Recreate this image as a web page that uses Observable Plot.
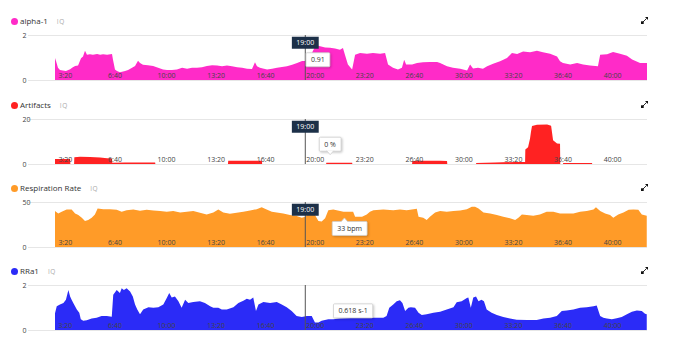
<!DOCTYPE html>
<html>
<head>
<meta charset="utf-8">
<script src="https://cdn.jsdelivr.net/npm/d3@7"></script>
<script src="https://cdn.jsdelivr.net/npm/@observablehq/plot@0.6"></script>
<style>
  body { margin: 0; background: #fff; font-family: "Open Sans", sans-serif; }
  #root { position: relative; width: 690px; height: 353px; overflow: hidden; background: #fff; }
  .panel { position: absolute; left: 0; width: 690px; height: 84px; }
  .legend { position: relative; height: 28px; }
  .legend .dot { position: absolute; left: 10.5px; top: 17.5px; width: 7.5px; height: 7.5px; border-radius: 50%; }
  .legend .name { position: absolute; left: 20px; top: 14px; font-size: 8px; line-height: 14px; color: #333; white-space: nowrap; }
  .legend .iq { margin-left: 9px; font-size: 6.5px; color: #aaa; letter-spacing: 0.5px; }
  .legend .expand { position: absolute; left: 641px; top: 17px; }
  .panel svg { display: block; }
</style>
</head>
<body>
<div id="root"></div>
<script>
// ---------- axis data ----------
const tickSeconds = [200, 400, 600, 800, 1000, 1200, 1400, 1600, 1800, 2000, 2200, 2400];
const tickLabels = ["3:20", "6:40", "10:00", "13:20", "16:40", "20:00", "23:20", "26:40", "30:00", "33:20", "36:40", "40:00"];
const cursorTime = 1200;
const cursorLabel = "19:00";

// ---------- series: alpha-1 ----------
const alphaTime = [192,196,204,212,224,236,253,261,273,285,297,305,313,321,333,345,362,374,386,402,422,426,434,442,454,475,487,503,515,527,535,547,567,588,608,628,644,664,684,705,725,745,765,785,805,826,846,866,886,906,927,947,967,987,999,1007,1019,1031,1048,1068,1088,1108,1128,1149,1169,1189,1201,1221,1233,1245,1262,1282,1302,1322,1342,1354,1362,1374,1391,1403,1423,1451,1475,1504,1524,1536,1556,1576,1592,1601,1609,1633,1653,1677,1705,1734,1746,1774,1798,1827,1855,1867,1879,1899,1919,1936,1960,1988,2016,2036,2057,2081,2109,2137,2161,2190,2218,2230,2242,2271,2299,2323,2351,2383,2392,2420,2444,2472,2500,2521,2553,2581];
const alphaValue = [0.98,0.85,0.55,0.45,0.42,0.40,0.48,0.55,0.62,0.65,0.97,1.05,1.30,1.12,1.15,1.12,1.16,1.12,1.14,1.12,1.16,0.90,0.47,0.40,0.35,0.40,0.45,0.55,0.62,0.86,0.76,0.68,0.66,0.62,0.55,0.47,0.44,0.44,0.47,0.54,0.50,0.54,0.54,0.57,0.62,0.66,0.64,0.61,0.64,0.61,0.57,0.54,0.50,0.49,0.79,0.61,0.54,0.51,0.47,0.50,0.54,0.58,0.61,0.68,0.76,0.85,0.84,1.00,1.30,1.55,1.50,1.45,1.43,1.40,1.34,1.42,1.12,0.69,0.47,1.12,1.20,1.17,1.20,1.17,1.20,0.69,0.54,0.47,0.54,0.90,0.69,0.69,0.76,0.79,0.80,0.80,0.76,0.61,0.54,0.50,0.42,0.69,0.51,0.54,0.50,0.61,0.72,0.83,0.98,1.20,1.16,1.27,1.23,1.30,1.23,1.17,1.05,0.83,0.76,0.69,0.76,0.69,0.64,0.61,1.12,1.15,1.24,1.17,1.08,0.91,0.76,0.76];

// ---------- series: Artifacts ----------
const artTime = [192,253,254,269,270,293,333,374,402,422,423,475,596,597,890,891,1027,1028,1286,1287,1391,1392,1633,1634,1665,1746,1774,1775,1891,1892,1968,2049,2089,2090,2101,2109,2113,2117,2137,2178,2194,2202,2218,2230,2231,2242,2243,2359,2360,2581];
const artValue = [2.2,2.2,0,0,3.0,3.2,3.1,2.9,2.6,2.5,0.6,0.7,0.7,0,0,1.5,1.5,0,0,0.6,0.6,0,0,1.3,1.5,1.4,1.3,0,0,0.5,0.7,0.9,0.9,6.5,7.4,11.3,14.5,16.9,17.4,17.6,17.0,10.6,9.1,9.0,0,0,0.45,0.45,0,0];

// ---------- series: Respiration Rate ----------
const respTime = [192,205,219,239,259,273,286,300,313,326,340,353,364,387,414,441,461,481,508,535,562,589,616,643,669,697,724,750,777,804,831,851,871,898,925,952,979,1006,1026,1046,1067,1087,1113,1140,1167,1188,1201,1221,1241,1255,1268,1282,1295,1315,1356,1395,1403,1431,1450,1463,1477,1517,1557,1584,1611,1632,1652,1659,1678,1692,1705,1726,1746,1773,1800,1827,1854,1874,1887,1901,1921,1948,1975,2001,2028,2049,2062,2076,2096,2122,2149,2176,2203,2230,2257,2284,2311,2338,2365,2375,2392,2412,2432,2445,2465,2486,2507,2526,2546,2560,2580];
const respValue = [39.9,37.3,39.1,41.7,41.7,37.3,35.5,32.6,29.0,30.1,32.6,36.2,42.8,42.0,42.0,41.3,39.1,40.9,41.7,40.2,41.3,40.6,39.9,39.1,39.9,38.4,39.1,39.9,38.0,36.2,38.4,41.7,38.4,37.0,38.0,39.1,40.6,42.0,44.2,41.7,39.1,38.4,37.3,35.5,34.4,32.6,33.7,38.4,35.5,29.0,28.3,31.9,40.9,41.7,39.1,39.1,33.7,33.7,36.2,39.1,40.9,41.7,40.9,41.7,40.9,41.7,42.4,33.7,32.6,30.1,33.7,38.4,39.9,39.1,39.9,40.6,42.0,44.6,44.6,42.8,38.4,37.3,35.5,33.7,31.9,30.1,32.6,36.2,35.5,34.8,36.2,39.1,39.1,37.3,37.3,37.3,39.1,39.9,41.7,44.2,39.9,37.3,35.5,32.6,36.2,38.4,41.3,41.7,41.3,36.2,34.8];

// ---------- series: RRa1 ----------
const rraTime = [192,199,212,226,236,246,253,259,269,280,290,296,306,320,340,360,380,401,421,427,441,454,461,470,481,495,506,515,524,535,548,569,589,609,629,643,653,663,676,690,703,717,730,750,777,797,818,831,851,865,885,912,932,952,966,979,992,1003,1013,1033,1060,1087,1107,1127,1147,1167,1188,1208,1228,1241,1255,1268,1295,1315,1342,1410,1450,1517,1530,1541,1557,1571,1584,1594,1605,1618,1628,1645,1659,1672,1692,1719,1746,1773,1800,1813,1833,1854,1860,1870,1880,1891,1901,1913,1923,1934,1954,1975,2001,2028,2055,2096,2136,2163,2190,2217,2237,2257,2284,2311,2338,2365,2378,2392,2405,2419,2439,2459,2479,2500,2520,2540,2560,2573,2580];
const rraValue = [0.75,1.06,1.13,1.20,1.35,1.78,1.49,1.35,1.13,0.91,0.77,0.48,0.41,0.43,0.51,0.55,0.62,0.62,0.59,1.57,1.78,1.64,1.86,1.78,1.86,1.71,1.49,1.13,0.91,0.70,0.91,1.01,0.99,1.01,1.13,1.42,1.64,1.45,1.49,1.28,0.99,1.35,1.20,1.25,1.28,1.20,1.06,0.99,0.99,0.91,0.91,1.01,1.20,1.30,1.39,1.35,1.45,0.84,1.13,1.25,1.20,1.25,1.13,1.01,0.84,0.62,0.58,0.62,0.62,0.33,0.33,0.41,0.48,0.48,0.51,0.55,0.55,0.55,0.62,0.99,1.13,1.28,1.32,1.20,0.84,0.99,1.01,0.99,0.77,0.67,0.70,0.77,0.81,0.91,1.01,1.23,1.28,1.42,1.45,0.99,1.45,1.49,1.28,1.35,1.28,0.91,0.77,0.67,0.58,0.51,0.46,0.45,0.45,0.51,0.55,0.62,0.84,0.87,0.91,0.99,1.01,1.06,1.09,0.62,0.55,0.51,0.48,0.52,0.58,0.70,0.81,0.87,0.84,0.72,0.70];

// ---------- panel settings ----------
const panels = [
  {name: "alpha-1", color: "#ff2bc8", time: alphaTime, value: alphaValue, yMax: 2, yTicks: [0, 2],
   showCursorLabel: true, tip: {t: 1251, v: 0.91, label: "0.91"}, pointer: null},
  {name: "Artifacts", color: "#ff2222", time: artTime, value: artValue, yMax: 20, yTicks: [0, 20],
   showCursorLabel: true, tip: {t: 1300, v: 8.9, label: "0 %"}, pointer: "down"},
  {name: "Respiration Rate", color: "#ff9b28", time: respTime, value: respValue, yMax: 50, yTicks: [0, 50],
   showCursorLabel: true, tip: {t: 1379, v: 20.9, label: "33 bpm"}, pointer: "up"},
  {name: "RRa1", color: "#2b2bf7", time: rraTime, value: rraValue, yMax: 2, yTicks: [0, 2],
   showCursorLabel: false, tip: {t: 1393, v: 0.86, label: "0.618 s-1"}, pointer: null}
];
const panelTops = [0, 84, 167, 250];

const ticks = tickSeconds.map((t, i) => ({t, label: tickLabels[i]}));
const root = document.getElementById("root");
const SVGNS = "http://www.w3.org/2000/svg";

function boxify(svg, label, opts) {
  Array.from(svg.querySelectorAll("text")).filter(t => t.textContent === label).forEach(t => {
    const b = t.getBBox();
    const x0 = b.x - opts.px, y0 = b.y - opts.py, w = b.width + 2 * opts.px, h = b.height + 2 * opts.py;
    const tr = t.getAttribute("transform");
    const r = document.createElementNS(SVGNS, "rect");
    r.setAttribute("x", x0);
    r.setAttribute("y", y0);
    r.setAttribute("width", w);
    r.setAttribute("height", h);
    r.setAttribute("fill", opts.fill);
    if (opts.stroke) { r.setAttribute("stroke", opts.stroke); r.setAttribute("stroke-width", 0.8); }
    if (opts.rx) r.setAttribute("rx", opts.rx);
    if (opts.shadow) r.setAttribute("style", "filter: drop-shadow(1px 1px 1px rgba(0,0,0,0.22))");
    if (tr) r.setAttribute("transform", tr);
    t.parentNode.insertBefore(r, t);
    if (opts.pointer) {
      const pth = document.createElementNS(SVGNS, "path");
      let d;
      if (opts.pointer === "down") {
        const cx = x0 + w / 2, yb = y0 + h;
        d = `M${cx - 3.5},${yb - 0.5} L${cx},${yb + 3.5} L${cx + 3.5},${yb - 0.5}`;
      } else {
        const cx = x0 + w * 0.35;
        d = `M${cx - 3.5},${y0 + 0.5} L${cx},${y0 - 3.5} L${cx + 3.5},${y0 + 0.5}`;
      }
      pth.setAttribute("d", d);
      pth.setAttribute("fill", opts.fill);
      pth.setAttribute("stroke", opts.stroke);
      pth.setAttribute("stroke-width", 0.8);
      if (tr) pth.setAttribute("transform", tr);
      t.parentNode.insertBefore(pth, t);
    }
  });
}

panels.forEach((p, idx) => {
  const div = document.createElement("div");
  div.className = "panel";
  div.style.top = panelTops[idx] + "px";

  const legend = document.createElement("div");
  legend.className = "legend";
  legend.innerHTML =
    `<span class="dot" style="background:${p.color}"></span>` +
    `<span class="name">${p.name}<span class="iq">IQ</span></span>` +
    `<svg class="expand" width="7" height="7" viewBox="0 0 7 7">` +
    `<path d="M1.5 5.5 L5.5 1.5" stroke="#111" stroke-width="0.9"/>` +
    `<rect x="0" y="4.3" width="2.7" height="2.7" fill="#111"/>` +
    `<path d="M4 0 L7 0 L7 3 Z" fill="#111"/></svg>`;
  div.appendChild(legend);

  const rows = p.time.map((t, i) => ({t, v: p.value[i]}));
  const marks = [
    Plot.ruleY(p.yTicks, {stroke: "#e6e6e6", strokeWidth: 1}),
    Plot.areaY(rows, {x: "t", y: "v", fill: p.color, curve: "linear"}),
    Plot.text(ticks, {x: "t", text: "label", frameAnchor: "bottom", textAnchor: "start", lineAnchor: "middle", dx: 1, dy: -4.5, fill: "#444", fontSize: 7}),
    Plot.text(p.yTicks, {y: d => d, text: d => String(d), frameAnchor: "left", textAnchor: "start", dx: -6, fill: "#444", fontSize: 7}),
    Plot.ruleX([cursorTime], {stroke: "#555", strokeWidth: 1})
  ];
  if (p.showCursorLabel) {
    marks.push(Plot.text([cursorTime], {x: d => d, text: () => cursorLabel, frameAnchor: "top", lineAnchor: "middle", dy: 7.5, fill: "#fff", fontSize: 7}));
  }
  marks.push(Plot.text([p.tip], {x: "t", y: "v", text: "label", fill: "#333", fontSize: 7, lineAnchor: "middle"}));

  const chart = Plot.plot({
    width: 690, height: 56,
    marginTop: 7, marginBottom: 4, marginLeft: 28, marginRight: 43,
    x: {domain: [83, 2581], axis: null},
    y: {domain: [0, p.yMax], axis: null},
    style: {fontFamily: "Open Sans, sans-serif", fontSize: "7px", overflow: "visible", background: "transparent"},
    marks
  });
  div.appendChild(chart);
  root.appendChild(div);

  boxify(chart, cursorLabel, {px: 4.5, py: 1.5, fill: "#1c3048"});
  boxify(chart, p.tip.label, {px: 5, py: 2.5, fill: "#fff", stroke: "#cfcfcf", rx: 1, shadow: true, pointer: p.pointer});
});
</script>
</body>
</html>
